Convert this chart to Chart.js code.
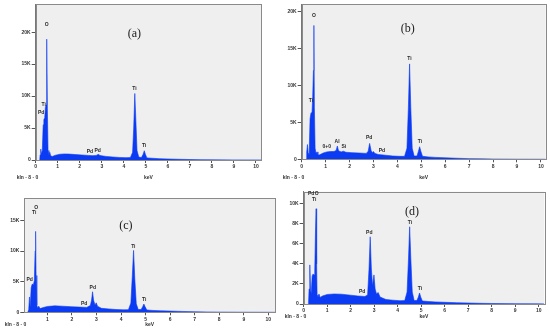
<!DOCTYPE html>
<html>
<head>
<meta charset="utf-8">
<script src="https://cdn.jsdelivr.net/npm/chart.js@4"></script>
<style>
  body { margin: 0; background: #fff; }
  #wrap { position: relative; width: 550px; height: 332px; overflow: hidden; }
  canvas { position: absolute; }
</style>
</head>
<body>
<div id="wrap">
  <canvas id="panelA"></canvas>
  <canvas id="panelB"></canvas>
  <canvas id="panelC"></canvas>
  <canvas id="panelD"></canvas>
</div>
<script>
// Spectrum (a)
const energyA = [0.18, 0.2, 0.23, 0.26, 0.3, 0.34, 0.37, 0.41, 0.44, 0.47, 0.49, 0.51, 0.53, 0.56, 0.6, 0.64, 0.68, 0.75, 0.9, 1.1, 1.3, 1.5, 1.8, 2.1, 2.4, 2.6, 2.75, 2.84, 2.92, 3.0, 3.2, 3.5, 3.8, 4.1, 4.3, 4.4, 4.45, 4.5, 4.55, 4.6, 4.68, 4.8, 4.88, 4.93, 4.98, 5.05, 5.3, 5.6, 6.0, 6.5, 7.0, 7.5, 8.0, 9.0, 10.0, 10.23];
const countsA = [0, 800, 1700, 900, 1500, 5500, 6300, 6600, 8200, 8600, 14000, 18900, 8000, 1500, 700, 1200, 650, 550, 750, 900, 950, 930, 850, 780, 720, 680, 720, 880, 720, 650, 560, 470, 400, 370, 380, 1200, 5000, 10400, 6000, 1500, 450, 380, 900, 1450, 900, 330, 270, 210, 160, 110, 75, 50, 30, 15, 8, 5];

// Spectrum (b)
const energyB = [0.18, 0.21, 0.24, 0.27, 0.31, 0.35, 0.39, 0.43, 0.46, 0.49, 0.51, 0.53, 0.56, 0.6, 0.64, 0.68, 0.75, 0.9, 1.05, 1.2, 1.35, 1.44, 1.49, 1.54, 1.65, 1.74, 1.85, 2.1, 2.4, 2.7, 2.78, 2.84, 2.9, 2.96, 3.0, 3.06, 3.2, 3.5, 3.8, 4.1, 4.3, 4.4, 4.46, 4.51, 4.56, 4.62, 4.7, 4.82, 4.88, 4.93, 4.98, 5.05, 5.3, 5.6, 6.0, 6.5, 7.0, 7.5, 8.0, 9.0, 10.0, 10.2];
const countsB = [0, 1000, 2000, 900, 600, 5500, 6300, 6200, 8500, 12000, 18100, 7000, 1500, 800, 1000, 550, 600, 850, 1000, 1050, 1050, 1200, 1800, 1150, 1000, 1100, 950, 900, 850, 800, 1100, 2150, 1200, 900, 1050, 800, 650, 550, 450, 400, 400, 1500, 7000, 12900, 7000, 1500, 450, 450, 1100, 1700, 1100, 400, 320, 260, 200, 140, 90, 60, 35, 15, 8, 5];

// Spectrum (c)
const energyC = [0.2, 0.24, 0.27, 0.3, 0.34, 0.38, 0.43, 0.47, 0.5, 0.52, 0.54, 0.57, 0.6, 0.65, 0.7, 0.8, 1.0, 1.3, 1.6, 2.0, 2.3, 2.6, 2.75, 2.8, 2.84, 2.88, 2.94, 2.99, 3.04, 3.2, 3.5, 3.8, 4.1, 4.3, 4.4, 4.46, 4.51, 4.56, 4.62, 4.7, 4.82, 4.88, 4.93, 4.98, 5.05, 5.3, 5.6, 6.0, 6.5, 7.0, 7.5, 8.0, 9.0, 10.0, 10.27];
const countsC = [0, 400, 2500, 800, 4000, 4600, 4500, 5200, 10000, 13200, 6000, 1200, 700, 1000, 600, 750, 950, 1050, 1000, 900, 850, 800, 1100, 2000, 3350, 2000, 1200, 1550, 1000, 650, 550, 450, 400, 420, 1500, 6000, 10100, 5500, 1400, 450, 450, 900, 1350, 900, 380, 300, 250, 200, 140, 90, 55, 35, 15, 8, 5];

// Spectrum (d)
const energyD = [0.2, 0.23, 0.26, 0.29, 0.32, 0.36, 0.4, 0.44, 0.47, 0.5, 0.53, 0.55, 0.57, 0.6, 0.65, 0.7, 0.8, 1.0, 1.3, 1.6, 2.0, 2.3, 2.6, 2.72, 2.78, 2.83, 2.88, 2.93, 2.99, 3.04, 3.1, 3.17, 3.25, 3.5, 3.8, 4.1, 4.3, 4.4, 4.46, 4.51, 4.56, 4.62, 4.7, 4.82, 4.88, 4.93, 4.98, 5.05, 5.3, 5.6, 6.0, 6.5, 7.0, 7.5, 8.0, 9.0, 10.0, 10.24];
const countsD = [0, 1500, 3900, 1500, 1000, 2800, 3000, 2900, 3300, 7000, 9500, 4000, 900, 600, 1000, 650, 800, 950, 1000, 980, 880, 800, 750, 900, 3500, 6700, 3500, 1800, 2900, 1500, 1000, 1150, 700, 450, 380, 330, 340, 1200, 4500, 7700, 4500, 1200, 350, 350, 700, 1100, 700, 300, 250, 210, 170, 130, 100, 70, 50, 30, 15, 10];

// Tick labels
const xTicks = [0, 1, 2, 3, 4, 5, 6, 7, 8, 9, 10];
const xTicksC = [1, 2, 3, 4, 5, 6, 7, 8, 9, 10];
const yTicksAB = [0, 5000, 10000, 15000, 20000];
const yTicksC = [0, 5000, 10000, 15000];
const yTicksD = [0, 2000, 4000, 6000, 8000, 10000];

// Peak labels: [keV, counts, text]
const peaksA = [[0.5, 21200, 'O'], [0.36, 8700, 'Ti'], [0.25, 7400, 'Pd'], [2.46, 1300, 'Pd'], [2.81, 1450, 'Pd'], [4.48, 11100, 'Ti'], [4.92, 2200, 'Ti']];
const peaksB = [[0.51, 19400, 'O'], [0.39, 7900, 'Ti'], [1.05, 1660, '0+0'], [1.48, 2400, 'Al'], [1.76, 1660, 'Si'], [2.82, 2900, 'Pd'], [3.35, 1170, 'Pd'], [4.5, 13600, 'Ti'], [4.94, 2400, 'Ti']];
const peaksC = [[0.54, 17000, 'O'], [0.46, 16200, 'Ti'], [0.28, 5400, 'Pd'], [2.5, 1350, 'Pd'], [2.85, 4100, 'Pd'], [4.5, 10700, 'Ti'], [4.94, 2050, 'Ti']];
const peaksD = [[0.32, 11000, 'Pd'], [0.55, 11000, 'O'], [0.45, 10400, 'Ti'], [2.49, 1200, 'Pd'], [2.79, 7070, 'Pd'], [4.52, 8070, 'Ti'], [4.95, 1530, 'Ti']];

const blue = '#0b3bf3';

// Plugin that draws the frame, peak labels and footer texts
const panelPlugin = {
  id: 'panel',
  beforeDraw(chart, args, opts) {
    const a = chart.chartArea;
    const ctx = chart.ctx;
    ctx.save();
    ctx.fillStyle = '#efefef';
    ctx.fillRect(a.left, a.top, a.right - a.left, a.bottom - a.top);
    ctx.restore();
  },
  afterDraw(chart, args, opts) {
    const a = chart.chartArea;
    const ctx = chart.ctx;
    const xs = chart.scales.x;
    const ys = chart.scales.y;
    ctx.save();
    ctx.strokeStyle = '#8a8a8a';
    ctx.lineWidth = 1;
    ctx.strokeRect(Math.round(a.left) + 0.5, Math.round(a.top) + 0.5, Math.round(a.right - a.left), Math.round(a.bottom - a.top));

    ctx.fillStyle = '#2a2a2a';
    ctx.textAlign = 'center';
    ctx.textBaseline = 'middle';
    ctx.font = 'bold 5px "Liberation Sans"';
    opts.peaks.forEach(function (p) {
      ctx.fillText(p[2], xs.getPixelForValue(p[0]), ys.getPixelForValue(p[1]));
    });

    ctx.font = '12px "Liberation Serif"';
    ctx.fillStyle = '#1a1a1a';
    ctx.fillText(opts.letter[2], xs.getPixelForValue(opts.letter[0]), ys.getPixelForValue(opts.letter[1]));

    ctx.font = 'bold 5px "Liberation Sans"';
    ctx.fillStyle = '#333';
    ctx.fillText('kln - 8 - 0', opts.footX, opts.footY);
    ctx.fillText('keV', (a.left + a.right) / 2, opts.footY);
    ctx.restore();
  },
};

// Function to build one panel
function makePanel(id, spec) {
  const canvas = document.getElementById(id);
  canvas.style.left = spec.x + 'px';
  canvas.style.top = spec.y + 'px';
  canvas.width = spec.w;
  canvas.height = spec.h;

  const points = spec.energy.map((e, i) => ({ x: e, y: spec.counts[i] }));

  new Chart(canvas, {
    type: 'line',
    data: {
      datasets: [
        {
          data: points,
          fill: 'origin',
          backgroundColor: blue,
          borderColor: blue,
          borderWidth: 0.6,
          pointRadius: 0,
          tension: 0,
        },
      ],
    },
    options: {
      responsive: false,
      animation: false,
      devicePixelRatio: 1,
      layout: {
        padding: {
          left: 0,
          bottom: 0,
          top: spec.box.top - spec.y,
          right: spec.x + spec.w - spec.box.right,
        },
      },
      plugins: {
        legend: { display: false },
        tooltip: { enabled: false },
        panel: {
          peaks: spec.peaks,
          letter: spec.letter,
          footX: spec.footX,
          footY: spec.footY,
        },
      },
      scales: {
        x: {
          type: 'linear',
          min: spec.xMin,
          max: spec.xMax,
          afterBuildTicks: (scale) => {
            scale.ticks = spec.xTicks.map((v) => ({ value: v }));
          },
          afterFit: (scale) => {
            scale.height = spec.y + spec.h - spec.box.bottom;
          },
          grid: { drawOnChartArea: false, tickLength: 3, color: '#555' },
          border: { color: '#777' },
          ticks: {
            padding: 1,
            maxRotation: 0,
            autoSkip: false,
            color: '#333',
            font: { family: 'Liberation Sans', size: 5, weight: 'bold' },
          },
        },
        y: {
          min: 0,
          max: spec.yMax,
          afterBuildTicks: (scale) => {
            scale.ticks = spec.yTicks.map((v) => ({ value: v }));
          },
          afterFit: (scale) => {
            scale.width = spec.box.left - spec.x;
          },
          grid: { drawOnChartArea: false, tickLength: 4, color: '#555' },
          border: { color: '#777' },
          ticks: {
            padding: 1,
            color: '#333',
            font: { family: 'Liberation Sans', size: 5, weight: 'bold' },
            callback: (v) => (v === 0 ? '0' : v / 1000 + 'K'),
          },
        },
      },
    },
    plugins: [panelPlugin],
  });
}

makePanel('panelA', {
  x: 0, y: 0, w: 275, h: 185,
  box: { left: 35.7, top: 4, right: 261, bottom: 160 },
  xMin: 0, xMax: 10.23, yMax: 24400,
  energy: energyA, counts: countsA, xTicks: xTicks, yTicks: yTicksAB,
  peaks: peaksA, letter: [4.48, 19700, '(a)'], footX: 27.5, footY: 178,
});

makePanel('panelB', {
  x: 275, y: 0, w: 275, h: 185,
  box: { left: 301.7, top: 4, right: 545.7, bottom: 159.3 },
  xMin: 0, xMax: 10.2, yMax: 21000,
  energy: energyB, counts: countsB, xTicks: xTicks, yTicks: yTicksAB,
  peaks: peaksB, letter: [4.43, 17600, '(b)'], footX: 18.5, footY: 178,
});

makePanel('panelC', {
  x: 0, y: 185, w: 277, h: 147,
  box: { left: 24.3, top: 198.3, right: 275, bottom: 312.3 },
  xMin: 0.06, xMax: 10.27, yMax: 18600,
  energy: energyC, counts: countsC, xTicks: xTicksC, yTicks: yTicksC,
  peaks: peaksC, letter: [4.2, 14050, '(c)'], footX: 15.5, footY: 140,
});

makePanel('panelD', {
  x: 275, y: 185, w: 275, h: 147,
  box: { left: 303.7, top: 191.7, right: 544.3, bottom: 304 },
  xMin: 0, xMax: 10.24, yMax: 11200,
  energy: energyD, counts: countsD, xTicks: xTicks, yTicks: yTicksD,
  peaks: peaksD, letter: [4.61, 9200, '(d)'], footX: 20.5, footY: 132,
});
</script>
</body>
</html>
